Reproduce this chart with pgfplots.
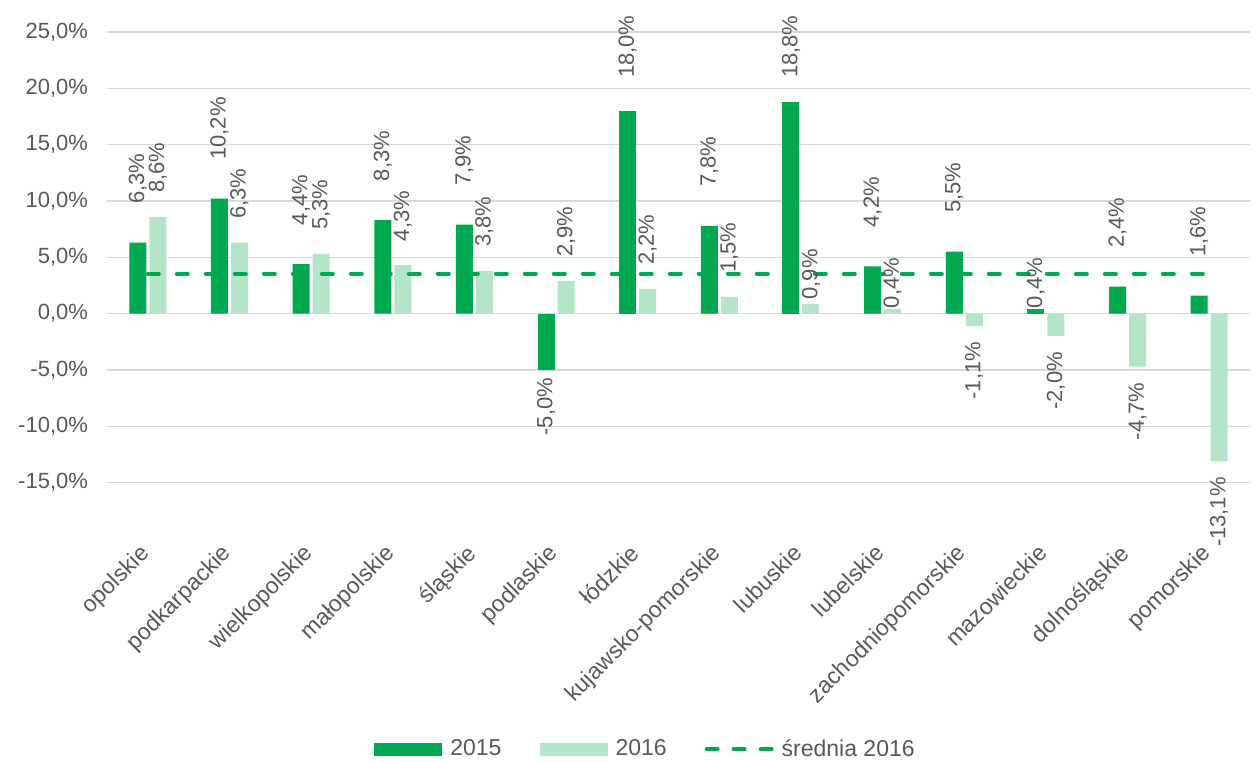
\documentclass[border=0pt]{standalone}
\usepackage{fontspec}
\setmainfont{Liberation Sans}
\usepackage{pgfplots}
\pgfplotsset{compat=1.18}
\definecolor{ciemny}{HTML}{00A94F}
\definecolor{jasny}{HTML}{B4E5C9}
\definecolor{tekst}{HTML}{595959}
\definecolor{siatka}{HTML}{D9D9D9}

% label above (west) or below (east) the bar end, with a gap
\pgfplotsset{
  etykieta/.style 2 args={
    nodes near coords={\pgfmathprintnumber[fixed,fixed zerofill,precision=1,use comma]{\pgfplotspointmeta}\%},
    every node near coord/.append style={rotate=90, text=tekst, font=\fontsize{11}{13}\selectfont,
      inner sep=0pt, anchor=#1, outer xsep=#2},
  },
  s15/.style={fill=ciemny, draw=none, bar shift=-5pt},
  s16/.style={fill=jasny, draw=none, bar shift=5pt},
  prostokat/.style={legend image code/.code={\fill[##1] (0pt,-3.25pt) rectangle (34pt,3.25pt);}},
  linia/.style={legend image code/.code={\draw[##1, dash pattern=on 5.5pt off 8pt] (1pt,0pt) -- (33.5pt,0pt);}},
}

\begin{document}
\begin{tikzpicture}
\begin{axis}[
  scale only axis, width=571.5pt, height=253.5pt,
  ybar, bar width=8.5pt,
  xmin=-0.5, xmax=13.5, ymin=-20, ymax=25,
  ytick={-15,-10,...,25},
  xtick={0,...,13},
  xticklabels={opolskie,podkarpackie,wielkopolskie,małopolskie,śląskie,podlaskie,łódzkie,kujawsko-pomorskie,lubuskie,lubelskie,zachodniopomorskie,mazowieckie,dolnośląskie,pomorskie},
  axis line style={draw=none},
  major tick length=0pt,
  ymajorgrids, grid style={siatka, line width=0.75pt},
  tick label style={text=tekst, font=\fontsize{11}{13}\selectfont},
  /pgf/number format/assume math mode=true,
  yticklabel={\pgfmathprintnumber[fixed,fixed zerofill,precision=1,use comma]{\tick}\%},
  yticklabel style={xshift=-6pt},
  xticklabel style={rotate=45, anchor=north east, inner sep=0pt, xshift=-4.5pt, yshift=2pt,
    font=\fontsize{11.5}{13}\selectfont},
  clip=false,
  legend columns=3,
  legend style={at={(0.472,-0.415)}, anchor=center, draw=none, fill=none,
    font=\fontsize{11.5}{13}\selectfont, text=tekst,
    /tikz/every odd column/.append style={column sep=2pt},
    /tikz/every even column/.append style={column sep=17pt}},
]
\coordinate (bbsw) at (rel axis cs:0,0);
\coordinate (bbne) at (rel axis cs:1,1);

% 2015
\addplot[s15, prostokat, etykieta={west}{19.5pt}]
  coordinates {(0,6.3) (1,10.2) (2,4.4) (3,8.3) (4,7.9) (7,7.8) (9,4.2) (10,5.5) (12,2.4) (13,1.6)};
\addlegendentry{2015}
\addplot[s15, forget plot, etykieta={west}{16.5pt}] coordinates {(6,18.0)};
\addplot[s15, forget plot, etykieta={west}{12pt}] coordinates {(8,18.8)};
\addplot[s15, forget plot, etykieta={west}{0.5pt}] coordinates {(11,0.4)};
\addplot[s15, forget plot, etykieta={east}{4pt}] coordinates {(5,-5.0)};

% 2016
\addplot[s16, prostokat, etykieta={west}{12pt}]
  coordinates {(0,8.6) (1,6.3) (2,5.3) (3,4.3) (4,3.8) (5,2.9) (6,2.2) (7,1.5)};
\addlegendentry{2016}
\addplot[s16, forget plot, etykieta={west}{2pt}] coordinates {(8,0.9)};
\addplot[s16, forget plot, etykieta={west}{0.5pt}] coordinates {(9,0.4)};
\addplot[s16, forget plot, etykieta={east}{8pt}]
  coordinates {(10,-1.1) (11,-2.0) (12,-4.7) (13,-13.1)};

% średnia 2016
\addplot[sharp plot, ciemny, line width=2pt, line cap=round, dash pattern=on 5.5pt off 9pt, linia]
  coordinates {(0,3.55) (13,3.55)};
\addlegendentry{średnia 2016}
\end{axis}
\pgfresetboundingbox
\path ([shift={(-53.5pt,-111.5pt)}]bbsw) rectangle ([shift={(2.5pt,16pt)}]bbne);
\end{tikzpicture}
\end{document}
